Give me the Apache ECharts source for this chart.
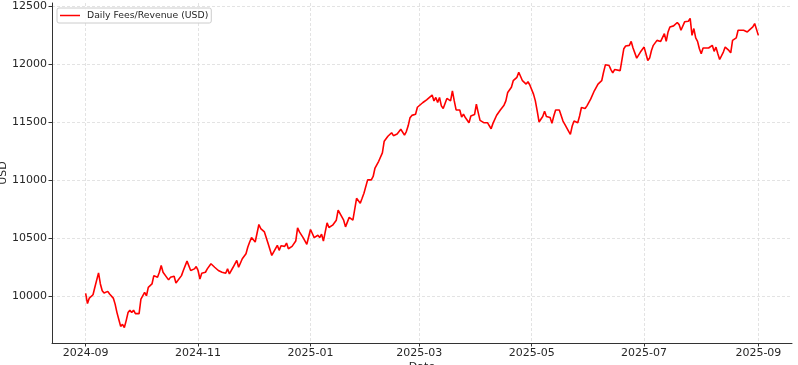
<!DOCTYPE html>
<html><head><meta charset="utf-8">
<script src="https://cdn.jsdelivr.net/npm/echarts@6/dist/echarts.min.js"></script>
<style>html,body{margin:0;padding:0;background:#fff}#c{width:798px;height:365px}</style>
</head><body><div id="c"></div>
<script>
const seriesName = 'Daily Fees/Revenue (USD)';
const startYMD = [2024, 9, 1];
const dayOffsets = [
0,1,2,4,5,7,8,9,10,12,13,14,15,16,17,18,19,20,21,22,23,24,25,26,27,29,
30,31,32,33,34,35,36,37,39,40,41,42,44,45,46,48,49,50,52,53,55,56,57,59,
60,61,62,63,65,66,68,70,72,74,75,76,77,78,79,80,81,82,83,84,85,86,87,88,89,
90,92,94,95,97,99,101,102,104,105,106,107,108,109,110,112,114,115,116,118,
120,122,123,124,126,127,128,129,130,131,132,134,136,137,138,140,141,142,143,145,146,147,149,
150,151,153,155,156,157,159,161,162,163,164,166,167,169,171,172,173,174,175,176,177,178,179,
180,181,183,185,186,188,189,190,191,192,193,194,196,197,198,199,200,201,203,204,205,206,208,209,
211,212,213,214,216,218,219,220,221,223,225,227,228,229,230,231,232,233,234,235,236,237,238,239,
240,241,243,244,245,246,248,249,250,252,253,254,255,256,257,258,259,260,262,263,264,265,267,268,269,
271,272,274,276,277,278,280,281,282,284,285,286,287,288,290,291,292,293,295,296,297,298,299,
301,302,303,304,305,306,307,308,309,310,311,312,314,315,316,317,318,319,321,322,323,324,325,327,328,329,
330,331,332,333,334,335,336,338,339,340,341,342,343,344,345,346,347,349,350,351,353,354,355,357,359,
360,362,363,364,365
];
const fees = [
10024,9937,9984,10013,10077,10202,10106,10048,10028,10042,10019,10019,9984,9932,9859,9800,9740,9758,9730,9790,9859,9880,9859,9880,9850,9850,
9976,9990,10033,10004,10077,10063,10106,10178,10163,10207,10265,10207,10163,10141,10163,10172,10114,10135,10178,10222,10303,10303,10222,10236,
10256,10222,10149,10198,10207,10236,10280,10250,10222,10207,10222,10198,10236,10193,10178,10250,10280,10309,10250,10265,10323,10309,10367,10424,10468,
10506,10468,10619,10584,10555,10454,10352,10352,10439,10396,10435,10424,10430,10459,10410,10430,10476,10590,10555,10506,
10448,10576,10541,10506,10526,10506,10535,10476,10555,10633,10593,10613,10656,10743,10729,10656,10598,10598,10680,10656,10665,10845,10802,
10845,10889,11004,11004,11033,11106,11164,11236,11337,11352,11380,11410,11385,11400,11440,11450,11390,11420,11470,11540,11560,11555,11570,
11630,11642,11671,11694,11683,11735,11685,11715,11671,11715,11642,11619,11706,11700,11685,11772,11685,11607,11607,11546,11570,11541,11497,11555,
11567,11656,11584,11517,11497,11497,11503,11445,11491,11561,11607,11648,11685,11758,11772,11802,11859,11850,11888,11932,11926,11859,11859,11830,
11850,11822,11743,11685,11598,11503,11550,11596,11550,11541,11491,11555,11607,11604,11607,11607,11511,11483,11425,11396,11468,11511,11497,11555,11628,
11619,11642,11700,11772,11758,11830,11859,11932,11996,11990,11955,11926,11955,11967,11946,11946,12135,12158,12164,12198,12141,12129,12054,
12106,12091,12149,12091,12033,12054,12120,12164,12149,12207,12198,12198,12265,12198,12280,12323,12309,12332,12361,12343,12294,12294,12367,12372,12396,12250,
12309,12228,12198,12135,12091,12141,12129,12141,12141,12164,12112,12149,12091,12042,12033,12106,12149,12120,12100,12207,12228,12294,12309,12294,12280,
12285,12323,12352,12352,12250
];
const xTickLabels = ['2024-09','2024-11','2025-01','2025-03','2025-05','2025-07','2025-09'];
const yTickValues = [10000,10500,11000,11500,12000,12500];
const xAxisName = 'Date';
const yAxisName = 'USD';

function dayToTime(d){ return new Date(startYMD[0], startYMD[1]-1, startYMD[2] + d).getTime(); }
function labelToTime(s){ const p = s.split('-'); return new Date(+p[0], +p[1]-1, 1).getTime(); }

const seriesData = dayOffsets.map((d,i)=>[dayToTime(d), fees[i]]);
const xTickTimes = xTickLabels.map(labelToTime);
const tFirst = dayToTime(dayOffsets[0]);
const tLast = dayToTime(dayOffsets[dayOffsets.length-1]);
const xPad = (tLast - tFirst) * 0.05;
const vMin = Math.min.apply(null, fees), vMax = Math.max.apply(null, fees);
const yPad = (vMax - vMin) * 0.05;

const FONT = 'DejaVu Sans';
const chart = echarts.init(document.getElementById('c'), null, {renderer:'canvas'});
chart.setOption({
  animation:false,
  backgroundColor:'#fff',
  grid:{left:52,right:6,top:3,bottom:22,containLabel:false,outerBoundsMode:'none'},
  legend:{
    left:57, top:8, orient:'horizontal',
    data:[{name:seriesName, icon:'rect'}],
    itemWidth:20, itemHeight:1.5, itemGap:5,
    padding:[3,3,3,3],
    backgroundColor:'rgba(255,255,255,0.8)', borderColor:'#cccccc', borderWidth:1, borderRadius:2,
    textStyle:{fontFamily:FONT, fontSize:9.3, color:'#262626', padding:[0,0,0,2]}
  },
  xAxis:{
    type:'value', min:tFirst - xPad, max:tLast + xPad, scale:true,
    name:xAxisName, nameLocation:'middle', nameGap:19, nameMoveOverlap:false,
    nameTextStyle:{fontFamily:FONT, fontSize:11, color:'#262626', verticalAlign:'top'},
    axisLine:{show:true, onZero:false, lineStyle:{color:'#333', width:1}},
    axisTick:{show:true, length:3.5, lineStyle:{color:'#333'}, customValues:xTickTimes},
    axisLabel:{customValues:xTickTimes, margin:5, fontFamily:FONT, fontSize:11, color:'#262626', hideOverlap:false,
      formatter:function(v){ const i = xTickTimes.indexOf(v); if(i>=0) return xTickLabels[i]; const d=new Date(v); return d.getFullYear()+'-'+String(d.getMonth()+1).padStart(2,'0'); }},
    splitLine:{show:true, lineStyle:{color:'#dcdcdc', type:[3,2], width:0.8}}
  },
  yAxis:{
    type:'value', min:vMin - yPad, max:vMax + yPad, scale:true,
    name:yAxisName, nameLocation:'middle', nameGap:43, nameRotate:90, nameMoveOverlap:false,
    nameTextStyle:{fontFamily:FONT, fontSize:11, color:'#262626'},
    axisLine:{show:true, onZero:false, lineStyle:{color:'#333', width:1}},
    axisTick:{show:true, length:3.5, lineStyle:{color:'#333'}, customValues:yTickValues},
    axisLabel:{customValues:yTickValues, margin:5, fontFamily:FONT, fontSize:11, color:'#262626',
      formatter:function(v){ return String(Math.round(v)); }},
    splitLine:{show:true, lineStyle:{color:'#dcdcdc', type:[3,2], width:0.8}}
  },
  series:[{
    name:seriesName, type:'line', data:seriesData, showSymbol:false, symbol:'none',
    lineStyle:{color:'#ff0000', width:1.6}, itemStyle:{color:'#ff0000'}
  }]
});
</script></body></html>
